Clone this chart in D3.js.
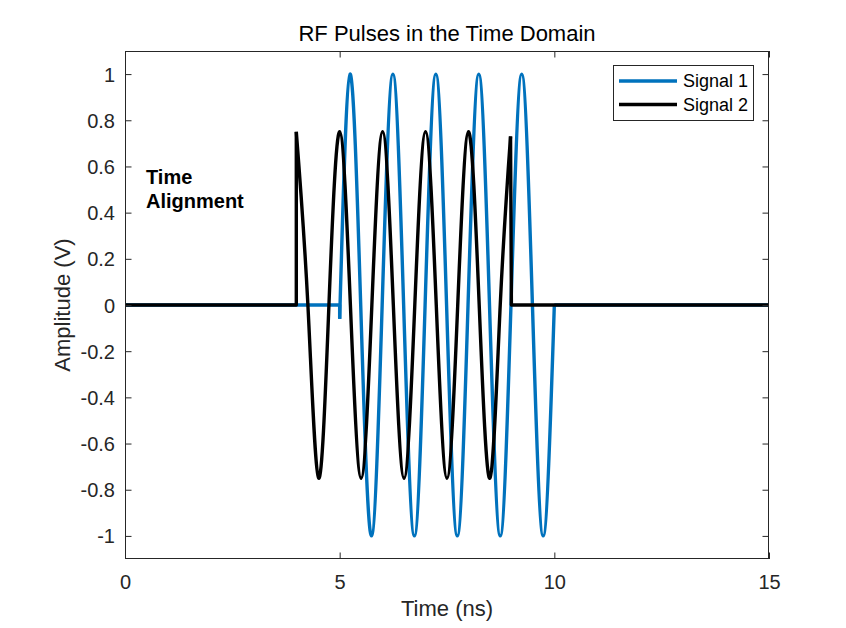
<!DOCTYPE html>
<html>
<head>
<meta charset="utf-8">
<script src="https://cdn.jsdelivr.net/npm/d3@7"></script>
<style>
  html, body { margin: 0; padding: 0; background: #ffffff; }
  svg { display: block; }
  text { font-family: "Liberation Sans", Arial, Helvetica, sans-serif; }
</style>
</head>
<body>
<script>
// ---------------- data ----------------
const titleText = "RF Pulses in the Time Domain";
const xLabelText = "Time (ns)";
const yLabelText = "Amplitude (V)";
const seriesNames = ["Signal 1", "Signal 2"];
const seriesColors = ["#0072BD", "#000000"];

const xTicks = [0, 5, 10, 15];
const xTickLabels = ["0", "5", "10", "15"];
const yTicks = [-1, -0.8, -0.6, -0.4, -0.2, 0, 0.2, 0.4, 0.6, 0.8, 1];
const yTickLabels = ["-1", "-0.8", "-0.6", "-0.4", "-0.2", "0", "0.2", "0.4", "0.6", "0.8", "1"];

// Signal 1 (blue): zero, small dip at pulse start, 1 GHz oscillation 5–10 ns, zero
const sig1PreTime = [0, 5.0, 5.0];
const sig1PreValue = [0, 0, -0.06];
const sig1OscTime = [5.0, 5.24, 5.49, 5.74, 5.99, 6.24, 6.49, 6.74, 6.99, 7.24, 7.49,
                     7.74, 7.99, 8.24, 8.49, 8.74, 8.99, 9.24, 9.49, 9.74, 10.0];
const sig1OscValue = [-0.06, 1, 0, -1, 0, 1, 0, -1, 0, 1, 0,
                      -1, 0, 1, 0, -1, 0, 1, 0, -1, 0];
const sig1PostTime = [10.0, 15];
const sig1PostValue = [0, 0];

// Signal 2 (black): zero, jump to 0.75 at 4 ns, oscillation 4–9 ns, zero
const sig2PreTime = [0, 3.99, 3.99];
const sig2PreValue = [0, 0, 0.75];
const sig2OscTime = [3.99, 4.26, 4.51, 4.75, 5.0, 5.25, 5.5, 5.75, 6.0, 6.25,
                     6.5, 6.75, 7.0, 7.25, 7.5, 7.75, 8.0, 8.25, 8.5, 8.74, 8.98];
const sig2OscValue = [0.75, 0, -0.75, 0, 0.75, 0, -0.75, 0, 0.75, 0,
                      -0.75, 0, 0.75, 0, -0.75, 0, 0.75, 0, -0.75, 0, 0.73];
const sig2PostTime = [8.98, 9.0, 15];
const sig2PostValue = [0.73, 0, 0];

const annotationLines = ["Time", "Alignment"];

// ---------------- layout ----------------
const W = 846, H = 628;
const plotL = 125, plotR = 769, plotT = 51, plotB = 559;
const axisColor = "#262626";

const svg = d3.select("body").append("svg")
  .attr("width", W).attr("height", H);

svg.append("rect").attr("width", W).attr("height", H).attr("fill", "#ffffff");

const x = d3.scaleLinear().domain([0, 15]).range([plotL, plotR]);
const y = d3.scaleLinear().domain([-1.1, 1.1]).range([plotB, plotT]);

svg.append("defs").append("clipPath").attr("id", "clip")
  .append("rect").attr("x", plotL).attr("y", plotT)
  .attr("width", plotR - plotL).attr("height", plotB - plotT);

// ---------------- lines ----------------
const zip = (ts, vs) => ts.map((t, i) => [t, vs[i]]);
const linLine = d3.line().x(d => x(d[0])).y(d => y(d[1])).curve(d3.curveLinear);
const smoothLine = d3.line().x(d => x(d[0])).y(d => y(d[1])).curve(d3.curveNatural);

const gLines = svg.append("g").attr("clip-path", "url(#clip)");

function drawSignal(pre, osc, post, color) {
  const g = gLines.append("g")
    .attr("fill", "none").attr("stroke", color)
    .attr("stroke-width", 3.4).attr("stroke-linejoin", "round").attr("stroke-linecap", "butt");
  g.append("path").attr("d", linLine(pre));
  g.append("path").attr("d", smoothLine(osc));
  g.append("path").attr("d", linLine(post));
}

drawSignal(zip(sig1PreTime, sig1PreValue), zip(sig1OscTime, sig1OscValue),
           zip(sig1PostTime, sig1PostValue), seriesColors[0]);
drawSignal(zip(sig2PreTime, sig2PreValue), zip(sig2OscTime, sig2OscValue),
           zip(sig2PostTime, sig2PostValue), seriesColors[1]);

// ---------------- axes ----------------
const tickLen = 6.5;
const fmtX = d => xTickLabels[xTicks.indexOf(d)];
const fmtY = d => yTickLabels[yTicks.indexOf(d)];

const xAxisB = svg.append("g").attr("transform", `translate(0,${plotB})`)
  .call(d3.axisBottom(x).tickValues(xTicks).tickFormat(fmtX).tickSizeInner(-tickLen).tickSizeOuter(0));
const xAxisT = svg.append("g").attr("transform", `translate(0,${plotT})`)
  .call(d3.axisTop(x).tickValues(xTicks).tickFormat("").tickSizeInner(-tickLen).tickSizeOuter(0));
const yAxisL = svg.append("g").attr("transform", `translate(${plotL},0)`)
  .call(d3.axisLeft(y).tickValues(yTicks).tickFormat(fmtY).tickSizeInner(-tickLen).tickSizeOuter(0));
const yAxisR = svg.append("g").attr("transform", `translate(${plotR},0)`)
  .call(d3.axisRight(y).tickValues(yTicks).tickFormat("").tickSizeInner(-tickLen).tickSizeOuter(0));

[xAxisB, xAxisT, yAxisL, yAxisR].forEach(a => {
  a.select(".domain").remove();
  a.selectAll(".tick line").attr("stroke", axisColor).attr("stroke-width", 1);
  a.selectAll(".tick text").attr("fill", axisColor)
    .style("font-family", '"Liberation Sans", Arial, Helvetica, sans-serif')
    .style("font-size", "20px");
});
xAxisB.selectAll(".tick text").attr("dy", null).attr("y", 30);
yAxisL.selectAll(".tick text").attr("dy", "0.35em").attr("x", -10);

// frame
svg.append("rect").attr("x", plotL + 0.5).attr("y", plotT + 0.5)
  .attr("width", plotR - plotL - 1).attr("height", plotB - plotT - 1)
  .attr("fill", "none").attr("stroke", axisColor).attr("stroke-width", 1);

// ---------------- text ----------------
svg.append("text").attr("x", (plotL + plotR) / 2).attr("y", 41)
  .attr("text-anchor", "middle").attr("fill", "#000")
  .style("font-size", "22px").text(titleText);

svg.append("text").attr("x", (plotL + plotR) / 2).attr("y", 616)
  .attr("text-anchor", "middle").attr("fill", axisColor)
  .style("font-size", "22px").text(xLabelText);

svg.append("text").attr("transform", `translate(70,${(plotT + plotB) / 2}) rotate(-90)`)
  .attr("text-anchor", "middle").attr("fill", axisColor)
  .style("font-size", "22px").text(yLabelText);

// annotation
const ann = svg.append("text").attr("fill", "#000")
  .style("font-size", "20px").style("font-weight", "bold");
annotationLines.forEach((line, i) => {
  ann.append("tspan").attr("x", 146).attr("y", 184 + i * 24).text(line);
});

// ---------------- legend ----------------
const leg = svg.append("g");
leg.append("rect").attr("x", 613.5).attr("y", 65.5).attr("width", 140).attr("height", 55)
  .attr("fill", "#ffffff").attr("stroke", axisColor).attr("stroke-width", 1);
const legRowY = [81, 104.5];
seriesNames.forEach((name, i) => {
  leg.append("line").attr("x1", 619).attr("x2", 677)
    .attr("y1", legRowY[i]).attr("y2", legRowY[i])
    .attr("stroke", seriesColors[i]).attr("stroke-width", 3.4);
  leg.append("text").attr("x", 683).attr("y", legRowY[i] + 6.3)
    .attr("fill", "#000").style("font-size", "18px").text(name);
});
</script>
</body>
</html>
